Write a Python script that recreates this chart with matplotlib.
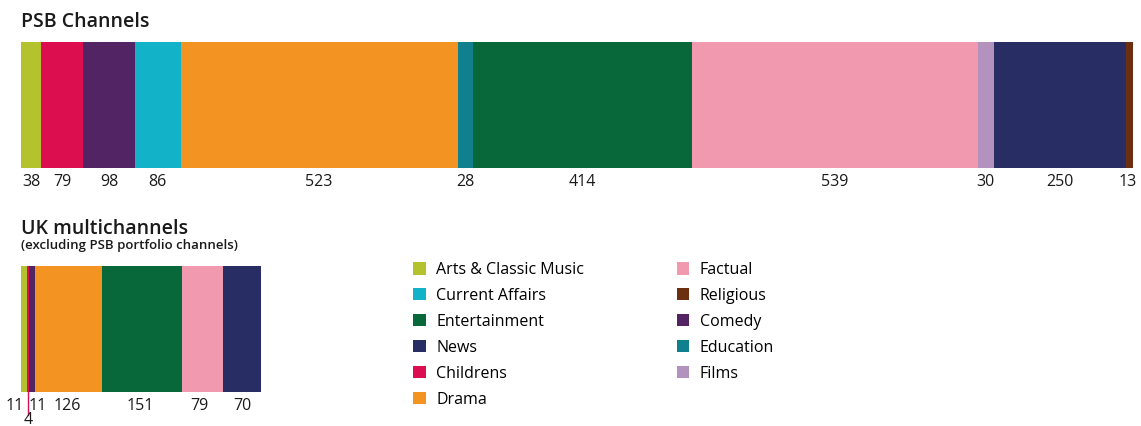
import matplotlib
matplotlib.use("Agg")
import matplotlib.pyplot as plt
from matplotlib.patches import Patch

plt.rcParams['font.family'] = ['Open Sans', 'DejaVu Sans']

# genre order used in the bars
genres = ['Arts & Classic Music', 'Childrens', 'Comedy', 'Current Affairs', 'Drama',
          'Education', 'Entertainment', 'Factual', 'Films', 'News', 'Religious']
colours = ['#b3c22d', '#dc0e50', '#532463', '#12b3c8', '#f39422',
           '#11808e', '#08683a', '#f199ae', '#b393be', '#282d64', '#6c3010']

psb_values = [38, 79, 98, 86, 523, 28, 414, 539, 30, 250, 13]

multi_genres = ['Arts & Classic Music', 'Childrens', 'Comedy', 'Drama',
                'Entertainment', 'Factual', 'News']
multi_values = [11, 4, 11, 126, 151, 79, 70]

legend_order = ['Arts & Classic Music', 'Current Affairs', 'Entertainment', 'News',
                'Childrens', 'Drama', 'Factual', 'Religious', 'Comedy', 'Education', 'Films']

col = dict(zip(genres, colours))

W, H = 1141, 426
fig = plt.figure(figsize=(W / 100, H / 100), dpi=100)

x0 = 21 / W
top_w = 1112 / W
psb_total = sum(psb_values)
multi_total = sum(multi_values)

ax1 = fig.add_axes([x0, (H - 168) / H, top_w, 126 / H])
ax2 = fig.add_axes([x0, (H - 392) / H, top_w * multi_total / psb_total, 126 / H])


def stacked(ax, names, vals, total, offsets=None):
    left = 0
    for i, (n, v) in enumerate(zip(names, vals)):
        ax.barh(0, v, left=left, height=1, color=col[n], edgecolor='none')
        dx, dy = (0, 0) if offsets is None else offsets.get(i, (0, 0))
        ax.annotate(str(v), (left + v / 2, -0.5), xytext=(dx, -4.5 + dy),
                    textcoords='offset points', ha='center', va='top',
                    fontsize=11.5, fontweight='medium', color='#1a1a1a',
                    annotation_clip=False)
        left += v
    ax.set_xlim(0, total)
    ax.set_ylim(-0.5, 0.5)
    ax.axis('off')


stacked(ax1, genres, psb_values, psb_total, offsets={10: (-1, 0)})
stacked(ax2, multi_genres, multi_values, multi_total,
        offsets={0: (-7, 0), 1: (0, -10), 2: (4.5, 0), 3: (-1, 0), 4: (-1, 0), 5: (-2, 0)})

# leader line for the tiny Childrens slice
mid = multi_values[0] + multi_values[1] / 2
ax2.plot([mid, mid], [-0.5, -0.68], color=col['Childrens'], lw=1, clip_on=False)

fig.text(x0, 1 - 22 / H, 'PSB Channels', fontsize=14, fontweight='semibold',
         va='center', ha='left', color='#1a1a1a')
fig.text(x0, 1 - 229 / H, 'UK multichannels', fontsize=14, fontweight='semibold',
         va='center', ha='left', color='#1a1a1a')
fig.text(x0, 1 - 245 / H, '(excluding PSB portfolio channels)', fontsize=9.5,
         fontweight='semibold', va='center', ha='left', color='#1a1a1a')

handles = [Patch(facecolor=col[n], edgecolor='none', label=n) for n in legend_order]
fig.legend(handles=handles, ncol=2, loc='upper left',
           bbox_to_anchor=(413 / W, 1 - 262 / H), frameon=False,
           fontsize=11.5, handlelength=0.8, handleheight=0.8, handletextpad=0.65,
           labelspacing=0.62, columnspacing=5.8, borderaxespad=0, borderpad=0)

fig.savefig('out.png', dpi=100)
